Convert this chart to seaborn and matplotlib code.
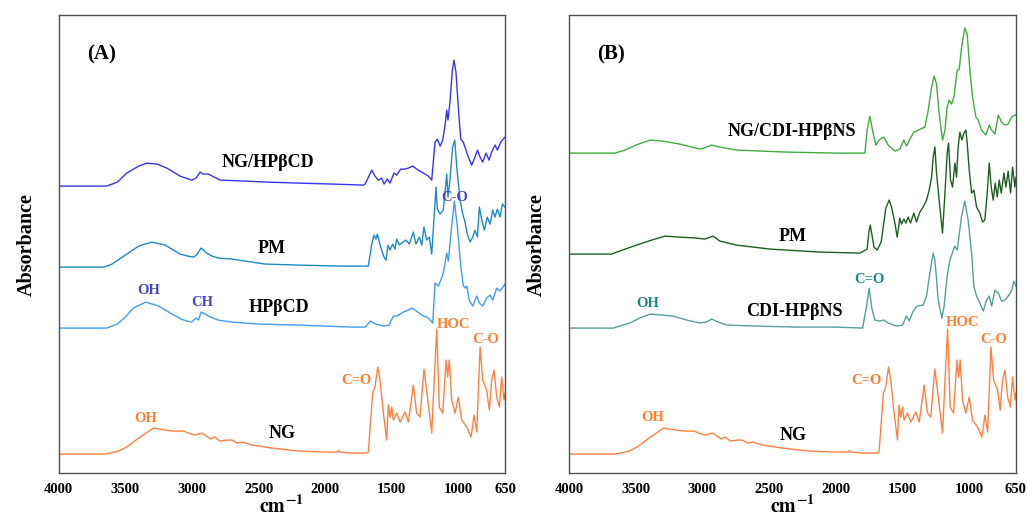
import numpy as np
import pandas as pd
import seaborn as sns
import matplotlib
matplotlib.use("Agg")
import matplotlib.pyplot as plt

# ---- spectra: wavenumber (cm-1) and relative absorbance ----
ng_wn = [4000, 3800, 3650, 3550, 3490, 3390, 3290, 3200, 3140, 3100,
         3060, 3030, 2980, 2925, 2880, 2860, 2830, 2790, 2740, 2700,
         2660, 2620, 2550, 2400, 2200, 2000, 1910, 1900, 1890, 1800,
         1690, 1676, 1643, 1626, 1605, 1588, 1563, 1538, 1526, 1513,
         1500, 1488, 1463, 1438, 1400, 1375, 1338, 1313, 1288, 1258,
         1238, 1200, 1180, 1162, 1143, 1117, 1092, 1080, 1068, 1050,
         1025, 1000, 975, 937, 905, 882, 862, 837, 817, 787,
         768, 750, 732, 712, 692, 675, 657, 650]
ng_abs = [0, 0, 0, 0.03, 0.07, 0.17, 0.26, 0.24, 0.23, 0.23,
          0.23, 0.21, 0.19, 0.21, 0.17, 0.15, 0.17, 0.13, 0.14, 0.14,
          0.11, 0.12, 0.09, 0.06, 0.03, 0.02, 0.02, 0.035, 0.02, 0.01,
          0.01, 0.02, 0.61, 0.67, 0.87, 0.74, 0.41, 0.14, 0.49, 0.37,
          0.47, 0.34, 0.41, 0.32, 0.42, 0.32, 0.69, 0.41, 0.37, 0.85,
          0.64, 0.21, 0.77, 1.25, 0.47, 0.41, 0.94, 0.77, 0.94, 0.54,
          0.41, 0.57, 0.34, 0.27, 0.17, 0.39, 0.22, 1.07, 0.74, 0.64,
          0.44, 0.74, 0.84, 0.57, 0.47, 0.77, 0.54, 0.61]

hpbcd_wn = [4000, 3800, 3640, 3560, 3500, 3440, 3347, 3250, 3150, 3080,
            3039, 3002, 2970, 2950, 2932, 2900, 2877, 2802, 2700, 2500,
            2200, 2000, 1800, 1700, 1658, 1620, 1563, 1520, 1488, 1463,
            1413, 1375, 1350, 1325, 1275, 1225, 1192, 1175, 1150, 1132,
            1113, 1087, 1075, 1050, 1030, 1008, 982, 963, 950, 937,
            918, 892, 862, 842, 817, 787, 762, 742, 712, 687,
            655, 650]
hpbcd_abs = [0, 0, 0, 0.04, 0.11, 0.20, 0.26, 0.22, 0.14, 0.09,
             0.07, 0.06, 0.10, 0.08, 0.16, 0.14, 0.12, 0.08, 0.06, 0.04,
             0.03, 0.02, 0.01, 0.01, 0.07, 0.04, 0.02, 0.03, 0.12, 0.12,
             0.16, 0.18, 0.20, 0.18, 0.13, 0.10, 0.05, 0.45, 0.42, 0.48,
             0.55, 0.75, 0.67, 1.02, 1.27, 1.02, 0.62, 0.43, 0.40, 0.42,
             0.28, 0.22, 0.32, 0.25, 0.22, 0.30, 0.33, 0.28, 0.40, 0.37,
             0.43, 0.44]

pm_a_wn = [4000, 3800, 3660, 3600, 3500, 3400, 3302, 3200, 3090, 3030,
           2990, 2965, 2932, 2890, 2850, 2800, 2700, 2600, 2450, 2200,
           1900, 1700, 1676, 1650, 1633, 1618, 1608, 1583, 1558, 1543,
           1528, 1513, 1493, 1475, 1463, 1443, 1418, 1393, 1368, 1338,
           1318, 1293, 1275, 1258, 1238, 1218, 1200, 1182, 1168, 1158,
           1137, 1113, 1087, 1078, 1063, 1043, 1027, 1012, 987, 967,
           950, 933, 912, 892, 875, 857, 842, 824, 805, 783,
           762, 742, 725, 707, 687, 670, 650]
pm_a_abs = [0, 0, 0, 0.03, 0.12, 0.21, 0.25, 0.22, 0.13, 0.11,
            0.10, 0.12, 0.19, 0.14, 0.11, 0.09, 0.08, 0.06, 0.03, 0.02,
            0.01, 0.01, 0.01, 0.23, 0.32, 0.28, 0.33, 0.20, 0.10, 0.07,
            0.22, 0.17, 0.23, 0.18, 0.28, 0.22, 0.25, 0.27, 0.23, 0.35,
            0.23, 0.30, 0.22, 0.40, 0.27, 0.30, 0.13, 0.50, 0.80, 0.58,
            0.53, 0.57, 0.93, 0.70, 0.87, 1.20, 1.27, 1.00, 0.67, 0.53,
            0.45, 0.33, 0.25, 0.30, 0.37, 0.30, 0.60, 0.47, 0.37, 0.50,
            0.43, 0.57, 0.50, 0.58, 0.50, 0.63, 0.60]

ng_hpbcd_wn = [4000, 3800, 3640, 3560, 3490, 3400, 3339, 3260, 3189, 3089,
               3002, 2970, 2939, 2915, 2877, 2789, 2600, 2439, 2200, 1940,
               1713, 1700, 1650, 1626, 1601, 1576, 1558, 1533, 1513, 1483,
               1463, 1433, 1400, 1375, 1343, 1313, 1263, 1225, 1200, 1175,
               1158, 1137, 1117, 1100, 1087, 1078, 1063, 1045, 1033, 1018,
               1000, 982, 963, 943, 925, 900, 875, 857, 837, 817,
               792, 770, 750, 725, 707, 682, 663, 650]
ng_hpbcd_abs = [0, 0, 0, 0.04, 0.13, 0.20, 0.23, 0.22, 0.18, 0.10,
                0.06, 0.08, 0.14, 0.12, 0.12, 0.06, 0.05, 0.04, 0.03, 0.02,
                0.01, 0.02, 0.16, 0.10, 0.06, 0.08, 0.02, 0.07, 0.03, 0.13,
                0.11, 0.17, 0.17, 0.18, 0.20, 0.17, 0.13, 0.10, 0.06, 0.44,
                0.47, 0.40, 0.46, 0.61, 0.76, 0.66, 0.84, 1.16, 1.26, 1.14,
                0.78, 0.47, 0.44, 0.36, 0.29, 0.21, 0.29, 0.36, 0.29, 0.24,
                0.33, 0.26, 0.34, 0.41, 0.36, 0.44, 0.47, 0.49]

cdi_wn = [4000, 3800, 3668, 3600, 3543, 3470, 3393, 3300, 3220, 3118,
          3018, 2970, 2931, 2880, 2818, 2600, 2300, 2000, 1799, 1769,
          1750, 1730, 1707, 1670, 1640, 1607, 1544, 1500, 1470, 1450,
          1420, 1390, 1345, 1320, 1295, 1270, 1257, 1232, 1205, 1188,
          1165, 1145, 1108, 1090, 1057, 1033, 1008, 982, 965, 945,
          920, 895, 870, 850, 832, 807, 782, 757, 733, 708,
          683, 665, 650]
cdi_abs = [0, 0, 0, 0.03, 0.05, 0.10, 0.14, 0.13, 0.12, 0.08,
           0.05, 0.06, 0.09, 0.06, 0.03, 0.02, 0.01, 0.01, 0.0, 0.22,
           0.40, 0.20, 0.08, 0.07, 0.08, 0.05, 0.02, 0.03, 0.12, 0.07,
           0.17, 0.22, 0.23, 0.32, 0.55, 0.75, 0.68, 0.28, 0.10, 0.22,
           0.52, 0.68, 0.82, 0.78, 1.12, 1.27, 1.08, 0.75, 0.42, 0.32,
           0.25, 0.17, 0.28, 0.32, 0.22, 0.38, 0.35, 0.27, 0.28, 0.32,
           0.37, 0.47, 0.42]

pm_b_wn = [4000, 3800, 3680, 3600, 3493, 3380, 3281, 3168, 3043, 2981,
           2919, 2869, 2743, 2494, 2119, 1820,
           1765, 1752, 1742, 1730, 1714, 1690, 1660, 1625, 1600, 1582,
           1557, 1540, 1520, 1507, 1490, 1475, 1457, 1440, 1415, 1395,
           1370, 1345, 1320, 1300, 1282, 1270, 1257, 1245, 1220, 1200,
           1182, 1165, 1155, 1140, 1125, 1107, 1095, 1083, 1070, 1055,
           1040, 1025, 1015, 1000, 982, 965, 945, 920, 900, 883,
           865, 850, 835, 820, 805, 790, 775, 760, 740, 725,
           708, 690, 675, 658, 650]
pm_b_abs = [0, 0, 0, 0.04, 0.09, 0.14, 0.18, 0.17, 0.16, 0.15,
            0.18, 0.13, 0.09, 0.05, 0.02, 0.01,
            0.05, 0.22, 0.29, 0.20, 0.07, 0.04, 0.12, 0.46, 0.54, 0.47,
            0.31, 0.17, 0.36, 0.30, 0.35, 0.31, 0.37, 0.31, 0.41, 0.32,
            0.42, 0.47, 0.54, 0.64, 0.77, 0.97, 1.07, 0.81, 0.47, 0.21,
            0.61, 1.01, 1.11, 0.74, 0.67, 0.91, 0.77, 1.07, 1.22, 1.14,
            1.21, 1.24, 1.11, 0.84, 0.61, 0.64, 0.47, 0.41, 0.32, 0.34,
            0.61, 0.91, 0.67, 0.54, 0.71, 0.57, 0.74, 0.61, 0.81, 0.67,
            0.83, 0.61, 0.87, 0.67, 0.77]

ng_cdi_wn = [4000, 3800, 3655, 3580, 3500, 3393, 3300, 3168, 3080, 3018,
             2970, 2931, 2869, 2743, 2369, 2000, 1872, 1795,
             1782, 1765, 1745, 1725, 1700, 1670, 1640, 1607, 1557, 1520,
             1490, 1470, 1445, 1415, 1382, 1332, 1307, 1282, 1263, 1245,
             1225, 1200, 1182, 1165, 1150, 1132, 1115, 1090, 1075, 1057,
             1033, 1015, 995, 975, 950, 933, 907, 875, 850, 832,
             807, 782, 757, 733, 708, 683, 658, 650]
ng_cdi_abs = [0, 0, 0, 0.03, 0.08, 0.13, 0.12, 0.09, 0.06, 0.04,
              0.06, 0.08, 0.06, 0.03, 0.01, 0.0, 0.0, 0.0,
              0.0, 0.23, 0.37, 0.23, 0.08, 0.14, 0.16, 0.08, 0.02, 0.04,
              0.13, 0.07, 0.14, 0.21, 0.23, 0.26, 0.43, 0.66, 0.77, 0.69,
              0.39, 0.13, 0.23, 0.46, 0.53, 0.49, 0.56, 0.83, 0.84, 1.06,
              1.25, 1.19, 0.83, 0.56, 0.36, 0.33, 0.23, 0.18, 0.28, 0.23,
              0.19, 0.38, 0.31, 0.28, 0.29, 0.36, 0.38, 0.38]

x_ticks = [4000, 3500, 3000, 2500, 2000, 1500, 1000, 650]

# vertical stacking offsets and colours
panel_a = {
    "NG": (ng_wn, ng_abs, 0.19, "#ff8040"),
    "HPβCD": (hpbcd_wn, hpbcd_abs, 1.45, "#3f9cf2"),
    "PM": (pm_a_wn, pm_a_abs, 2.06, "#1e8ac4"),
    "NG/HPβCD": (ng_hpbcd_wn, ng_hpbcd_abs, 2.87, "#3535f2"),
}
panel_b = {
    "NG": (ng_wn, ng_abs, 0.19, "#ff8040"),
    "CDI-HPβNS": (cdi_wn, cdi_abs, 1.45, "#5c9c9c"),
    "PM": (pm_b_wn, pm_b_abs, 2.19, "#1e5e22"),
    "NG/CDI-HPβNS": (ng_cdi_wn, ng_cdi_abs, 3.20, "#40ae40"),
}

orange = "#ff7f30"
blue_txt = "#4646c6"
teal_txt = "#168a8a"

# (text, wavenumber, y, colour, size)
labels_a = [
    ("NG/HPβCD", 2430, 3.11, "black", 13),
    ("PM", 2400, 2.25, "black", 13),
    ("HPβCD", 2345, 1.66, "black", 13),
    ("NG", 2325, 0.40, "black", 13),
    ("OH", 3322, 1.83, blue_txt, 10.5),
    ("CH", 2924, 1.71, blue_txt, 10.5),
    ("C-O", 1025, 2.76, blue_txt, 10.5),
    ("OH", 3345, 0.55, orange, 10.5),
    ("C=O", 1762, 0.93, orange, 10.5),
    ("HOC", 1040, 1.49, orange, 10.5),
    ("C-O", 792, 1.34, orange, 10.5),
]
labels_b = [
    ("NG/CDI-HPβNS", 2330, 3.42, "black", 13),
    ("PM", 2322, 2.37, "black", 13),
    ("CDI-HPβNS", 2307, 1.62, "black", 13),
    ("NG", 2322, 0.38, "black", 13),
    ("OH", 3408, 1.70, teal_txt, 10.5),
    ("C=O", 1745, 1.94, teal_txt, 10.5),
    ("OH", 3371, 0.56, orange, 10.5),
    ("C=O", 1767, 0.93, orange, 10.5),
    ("HOC", 1048, 1.51, orange, 10.5),
    ("C-O", 815, 1.34, orange, 10.5),
]

sns.set_theme(style="white")
plt.rcParams["font.family"] = ["Liberation Serif", "DejaVu Serif"]
plt.rcParams["mathtext.fontset"] = "stix"
plt.rcParams["text.color"] = "black"
plt.rcParams["axes.labelcolor"] = "black"


def spectra_frame(panel):
    parts = []
    for name, (wn, ab, off, _) in panel.items():
        parts.append(pd.DataFrame({"sample": name, "wavenumber": wn,
                                   "signal": np.asarray(ab) + off}))
    return pd.concat(parts, ignore_index=True)


def draw_panel(ax, panel, labels, tag):
    df = spectra_frame(panel)
    palette = {k: v[3] for k, v in panel.items()}
    sns.lineplot(data=df, x="wavenumber", y="signal", hue="sample",
                 palette=palette, estimator=None, sort=True, legend=False,
                 linewidth=1.0, ax=ax)
    ax.set_xlim(4000, 650)
    ax.set_ylim(0, 4.58)
    ax.set_xticks(x_ticks)
    ax.set_xticklabels([str(t) for t in x_ticks], fontweight="bold", fontsize=10.5)
    ax.set_yticks([])
    ax.tick_params(axis="x", length=3, width=0.8, pad=4, colors="black")
    for s in ax.spines.values():
        s.set_color("#505050")
        s.set_linewidth(1.0)
    ax.set_xlabel(r"$\mathbf{cm^{-1}}$", fontsize=14.5)
    ax.xaxis.set_label_coords(0.5, -0.05)
    ax.set_ylabel("Absorbance", fontsize=14.5, fontweight="bold")
    ax.yaxis.set_label_coords(-0.05, 0.5)
    for text, x, y, c, fs in labels:
        ax.text(x, y, text, color=c, fontsize=fs, fontweight="bold",
                ha="center", va="center")
    ax.text(0.095, 0.915, tag, transform=ax.transAxes, fontsize=15,
            fontweight="bold", ha="center", va="center", color="black")


fig = plt.figure(figsize=(10.27, 5.21), dpi=100)
ax_a = fig.add_axes([0.0572, 0.092, 0.4345, 0.879])
ax_b = fig.add_axes([0.554, 0.092, 0.4352, 0.879])

draw_panel(ax_a, panel_a, labels_a, "(A)")
draw_panel(ax_b, panel_b, labels_b, "(B)")

fig.savefig("out.png", dpi=100)
